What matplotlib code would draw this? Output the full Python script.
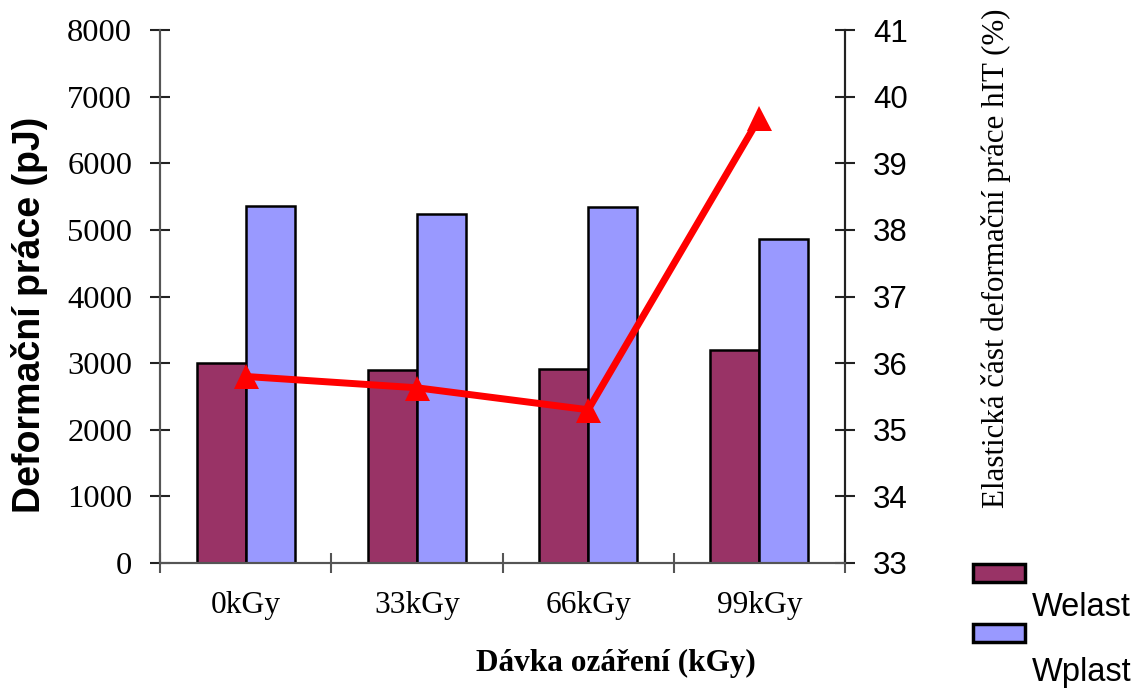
import matplotlib.pyplot as plt
import numpy as np

# data
categories = ['0kGy', '33kGy', '66kGy', '99kGy']
welast = [3000, 2900, 2910, 3200]
wplast = [5360, 5235, 5350, 4865]
elastic_pct = [35.80, 35.63, 35.30, 39.68]

fig = plt.figure(figsize=(11.41, 6.88), dpi=100)
ax = fig.add_axes([160 / 1141, 1 - 563 / 688, 685 / 1141, 533 / 688])
ax2 = ax.twinx()

x = np.arange(len(categories))
w = 0.286
b1 = ax.bar(x - w / 2, welast, w, color='#993366', edgecolor='black', linewidth=1.8, zorder=2)
b2 = ax.bar(x + w / 2, wplast, w, color='#9999FF', edgecolor='black', linewidth=1.8, zorder=2)

ax2.plot(x, elastic_pct, color='red', linewidth=5, marker='^', markersize=18,
         markeredgewidth=0, solid_joinstyle='miter')

ax.set_xlim(-0.5, len(categories) - 0.5)
ax.set_ylim(0, 8000)
ax2.set_ylim(33, 41)
ax.set_yticks(np.arange(0, 8001, 1000))
ax2.set_yticks(np.arange(33, 42, 1))

# ticks at category boundaries, labels at centres
ax.set_xticks(np.arange(-0.5, len(categories), 1))
ax.set_xticklabels([])
ax.set_xticks(x, minor=True)
ax.set_xticklabels(categories, minor=True, family='Liberation Serif', fontsize=22.7)
ax.tick_params(axis='x', which='minor', length=0, pad=20)
ax.tick_params(axis='x', which='major', direction='inout', length=14, width=1.5, color='#555555')

ax.tick_params(axis='y', direction='inout', length=14, width=1.5, color='#222222', pad=13)
for t in ax.get_yticklabels():
    t.set_family('Liberation Serif')
    t.set_fontsize(23.4)
ax2.tick_params(axis='y', direction='inout', length=14, width=1.5, color='#222222', pad=13)
for t in ax2.get_yticklabels():
    t.set_family('Liberation Sans')
    t.set_fontsize(22.5)

for a in (ax, ax2):
    a.spines['top'].set_visible(False)
    a.spines['left'].set_color('#555555')
    a.spines['bottom'].set_color('#555555')
    a.spines['right'].set_color('#222222')
    for s in a.spines.values():
        s.set_linewidth(1.5)
ax.set_zorder(ax2.get_zorder() - 1)
ax2.patch.set_visible(False)
ax.patch.set_visible(False)

fig.text(30 / 1141, 1 - 315 / 688, 'Deformační práce (pJ)', rotation=90, ha='center', va='center',
         family='Liberation Sans', fontweight='bold', fontsize=27)
fig.text(996 / 1141, 1 - 258 / 688, 'Elastická část deformační práce hIT (%)', rotation=90,
         ha='center', va='center', family='Liberation Serif', fontsize=22.3)
fig.text(616 / 1141, 1 - 663 / 688, 'Dávka ozáření (kGy)', ha='center', va='center',
         family='Liberation Serif', fontweight='bold', fontsize=22.5)

# legend: keys only, labels placed below-right like the original
leg = fig.legend([b1, b2], ['', ''], loc='upper left', bbox_to_anchor=(973 / 1141, 1 - 561 / 688),
                 frameon=False, fontsize=20, handlelength=1.87, handleheight=0.61,
                 handletextpad=0, borderpad=0, borderaxespad=0, labelspacing=1.15)
for p in leg.get_patches():
    p.set_linewidth(2.5)
fig.text(1032 / 1141, 1 - 608 / 688, 'Welast', ha='left', va='center', family='Liberation Sans', fontsize=23.5)
fig.text(1032 / 1141, 1 - 672 / 688, 'Wplast', ha='left', va='center', family='Liberation Sans', fontsize=23.5)

fig.savefig('out.png', dpi=100)
